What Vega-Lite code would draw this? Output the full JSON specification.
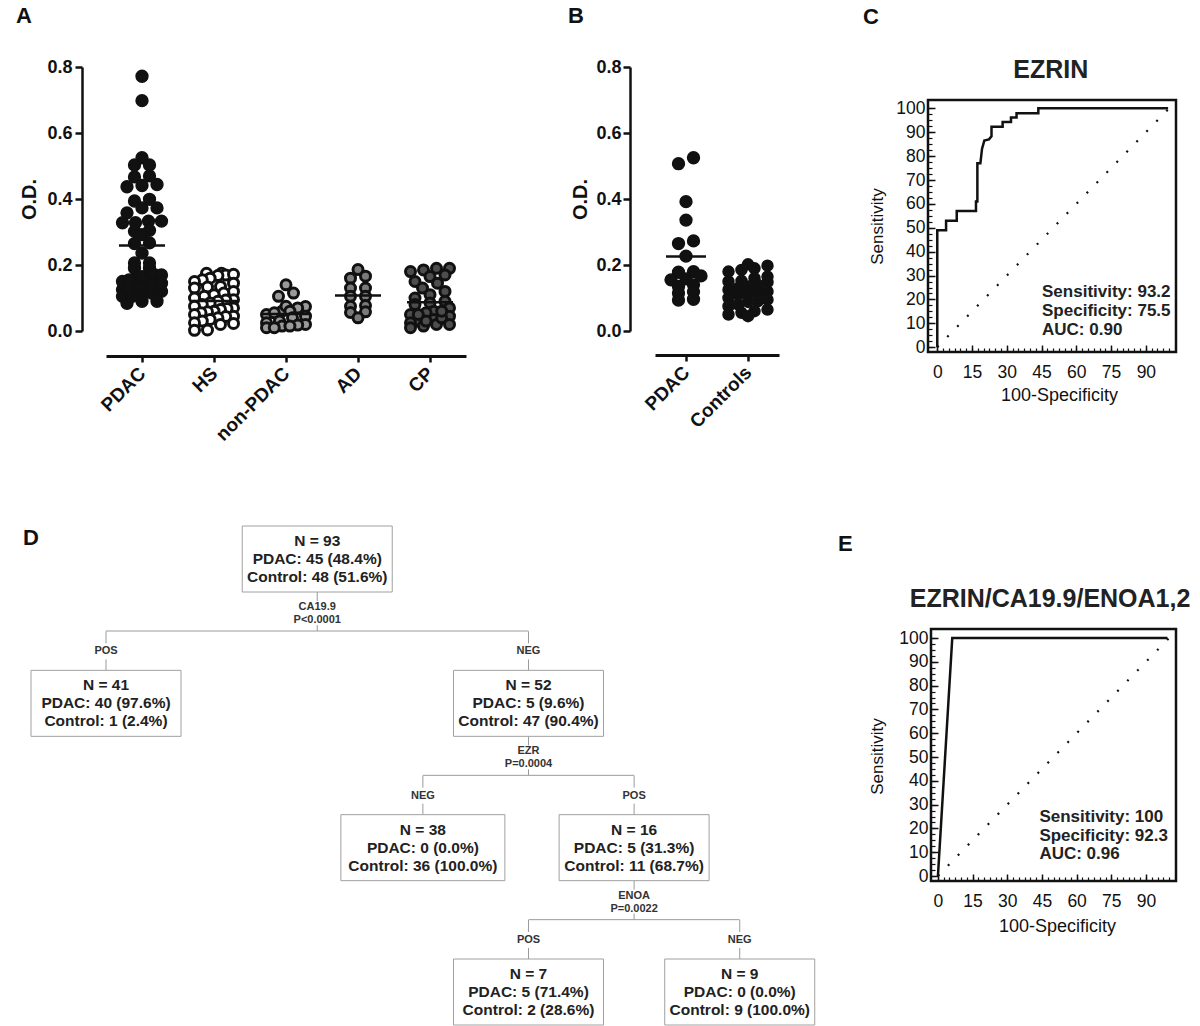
{
  "$schema": "https://vega.github.io/schema/vega-lite/v6.json",
  "padding": {"left": 16, "top": 5, "right": 0, "bottom": 0},
  "background": "white",
  "columns": 3,
  "align": "each",
  "bounds": "flush",
  "spacing": {"row": 207, "column": 149},
  "datasets": {
    "A": [
      {"group": "PDAC", "od": 0.772}, {"group": "PDAC", "od": 0.698}, {"group": "PDAC", "od": 0.525}, {"group": "PDAC", "od": 0.503}, {"group": "PDAC", "od": 0.503}, {"group": "PDAC", "od": 0.470}, {"group": "PDAC", "od": 0.467}, {"group": "PDAC", "od": 0.444}, {"group": "PDAC", "od": 0.437}, {"group": "PDAC", "od": 0.441}, {"group": "PDAC", "od": 0.399}, {"group": "PDAC", "od": 0.394}, {"group": "PDAC", "od": 0.373}, {"group": "PDAC", "od": 0.373}, {"group": "PDAC", "od": 0.358}, {"group": "PDAC", "od": 0.333}, {"group": "PDAC", "od": 0.333}, {"group": "PDAC", "od": 0.328}, {"group": "PDAC", "od": 0.328}, {"group": "PDAC", "od": 0.305}, {"group": "PDAC", "od": 0.302}, {"group": "PDAC", "od": 0.292}, {"group": "PDAC", "od": 0.265}, {"group": "PDAC", "od": 0.267}, {"group": "PDAC", "od": 0.236}, {"group": "PDAC", "od": 0.206}, {"group": "PDAC", "od": 0.206}, {"group": "PDAC", "od": 0.190}, {"group": "PDAC", "od": 0.190}, {"group": "PDAC", "od": 0.170}, {"group": "PDAC", "od": 0.170}, {"group": "PDAC", "od": 0.170}, {"group": "PDAC", "od": 0.145}, {"group": "PDAC", "od": 0.145}, {"group": "PDAC", "od": 0.140}, {"group": "PDAC", "od": 0.140}, {"group": "PDAC", "od": 0.125}, {"group": "PDAC", "od": 0.130}, {"group": "PDAC", "od": 0.125}, {"group": "PDAC", "od": 0.105}, {"group": "PDAC", "od": 0.105}, {"group": "PDAC", "od": 0.090}, {"group": "PDAC", "od": 0.084}, {"group": "PDAC", "od": 0.090}, {"group": "PDAC", "od": 0.120}, {"group": "PDAC", "od": 0.130}, {"group": "PDAC", "od": 0.150}, {"group": "PDAC", "od": 0.160}, {"group": "PDAC", "od": 0.110}, {"group": "PDAC", "od": 0.140}, {"group": "PDAC", "od": 0.155}, {"group": "PDAC", "od": 0.135}, {"group": "PDAC", "od": 0.165}, {"group": "PDAC", "od": 0.125}, {"group": "PDAC", "od": 0.145}, {"group": "PDAC", "od": 0.115},
      {"group": "HS", "od": 0.175}, {"group": "HS", "od": 0.175}, {"group": "HS", "od": 0.170}, {"group": "HS", "od": 0.172}, {"group": "HS", "od": 0.168}, {"group": "HS", "od": 0.160}, {"group": "HS", "od": 0.155}, {"group": "HS", "od": 0.150}, {"group": "HS", "od": 0.145}, {"group": "HS", "od": 0.135}, {"group": "HS", "od": 0.133}, {"group": "HS", "od": 0.130}, {"group": "HS", "od": 0.120}, {"group": "HS", "od": 0.115}, {"group": "HS", "od": 0.110}, {"group": "HS", "od": 0.105}, {"group": "HS", "od": 0.100}, {"group": "HS", "od": 0.095}, {"group": "HS", "od": 0.094}, {"group": "HS", "od": 0.090}, {"group": "HS", "od": 0.085}, {"group": "HS", "od": 0.080}, {"group": "HS", "od": 0.075}, {"group": "HS", "od": 0.070}, {"group": "HS", "od": 0.068}, {"group": "HS", "od": 0.065}, {"group": "HS", "od": 0.060}, {"group": "HS", "od": 0.058}, {"group": "HS", "od": 0.055}, {"group": "HS", "od": 0.050}, {"group": "HS", "od": 0.045}, {"group": "HS", "od": 0.044}, {"group": "HS", "od": 0.040}, {"group": "HS", "od": 0.035}, {"group": "HS", "od": 0.030}, {"group": "HS", "od": 0.025}, {"group": "HS", "od": 0.023}, {"group": "HS", "od": 0.020}, {"group": "HS", "od": 0.003}, {"group": "HS", "od": 0.002},
      {"group": "non-PDAC", "od": 0.140}, {"group": "non-PDAC", "od": 0.115}, {"group": "non-PDAC", "od": 0.105}, {"group": "non-PDAC", "od": 0.060}, {"group": "non-PDAC", "od": 0.050}, {"group": "non-PDAC", "od": 0.075}, {"group": "non-PDAC", "od": 0.074}, {"group": "non-PDAC", "od": 0.070}, {"group": "non-PDAC", "od": 0.060}, {"group": "non-PDAC", "od": 0.055}, {"group": "non-PDAC", "od": 0.045}, {"group": "non-PDAC", "od": 0.040}, {"group": "non-PDAC", "od": 0.030}, {"group": "non-PDAC", "od": 0.025}, {"group": "non-PDAC", "od": 0.020}, {"group": "non-PDAC", "od": 0.018}, {"group": "non-PDAC", "od": 0.015}, {"group": "non-PDAC", "od": 0.015}, {"group": "non-PDAC", "od": 0.010}, {"group": "non-PDAC", "od": 0.010},
      {"group": "AD", "od": 0.186}, {"group": "AD", "od": 0.166}, {"group": "AD", "od": 0.160}, {"group": "AD", "od": 0.130}, {"group": "AD", "od": 0.130}, {"group": "AD", "od": 0.105}, {"group": "AD", "od": 0.105}, {"group": "AD", "od": 0.077}, {"group": "AD", "od": 0.075}, {"group": "AD", "od": 0.058}, {"group": "AD", "od": 0.056}, {"group": "AD", "od": 0.040},
      {"group": "CP", "od": 0.190}, {"group": "CP", "od": 0.190}, {"group": "CP", "od": 0.185}, {"group": "CP", "od": 0.180}, {"group": "CP", "od": 0.170}, {"group": "CP", "od": 0.165}, {"group": "CP", "od": 0.150}, {"group": "CP", "od": 0.145}, {"group": "CP", "od": 0.130}, {"group": "CP", "od": 0.120}, {"group": "CP", "od": 0.110}, {"group": "CP", "od": 0.100}, {"group": "CP", "od": 0.090}, {"group": "CP", "od": 0.085}, {"group": "CP", "od": 0.080}, {"group": "CP", "od": 0.070}, {"group": "CP", "od": 0.060}, {"group": "CP", "od": 0.055}, {"group": "CP", "od": 0.050}, {"group": "CP", "od": 0.045}, {"group": "CP", "od": 0.035}, {"group": "CP", "od": 0.030}, {"group": "CP", "od": 0.025}, {"group": "CP", "od": 0.020}, {"group": "CP", "od": 0.015}, {"group": "CP", "od": 0.010}, {"group": "CP", "od": 0.030}, {"group": "CP", "od": 0.040}, {"group": "CP", "od": 0.020}, {"group": "CP", "od": 0.050}, {"group": "CP", "od": 0.060}
    ],
    "B": [
      {"group": "PDAC", "od": 0.525}, {"group": "PDAC", "od": 0.507}, {"group": "PDAC", "od": 0.392}, {"group": "PDAC", "od": 0.336}, {"group": "PDAC", "od": 0.273}, {"group": "PDAC", "od": 0.265}, {"group": "PDAC", "od": 0.227}, {"group": "PDAC", "od": 0.180}, {"group": "PDAC", "od": 0.178}, {"group": "PDAC", "od": 0.167}, {"group": "PDAC", "od": 0.158}, {"group": "PDAC", "od": 0.155}, {"group": "PDAC", "od": 0.140}, {"group": "PDAC", "od": 0.135}, {"group": "PDAC", "od": 0.119}, {"group": "PDAC", "od": 0.115}, {"group": "PDAC", "od": 0.096}, {"group": "PDAC", "od": 0.094},
      {"group": "Controls", "od": 0.202}, {"group": "Controls", "od": 0.198}, {"group": "Controls", "od": 0.190}, {"group": "Controls", "od": 0.185}, {"group": "Controls", "od": 0.180}, {"group": "Controls", "od": 0.165}, {"group": "Controls", "od": 0.160}, {"group": "Controls", "od": 0.152}, {"group": "Controls", "od": 0.150}, {"group": "Controls", "od": 0.148}, {"group": "Controls", "od": 0.140}, {"group": "Controls", "od": 0.135}, {"group": "Controls", "od": 0.130}, {"group": "Controls", "od": 0.125}, {"group": "Controls", "od": 0.120}, {"group": "Controls", "od": 0.115}, {"group": "Controls", "od": 0.112}, {"group": "Controls", "od": 0.110}, {"group": "Controls", "od": 0.100}, {"group": "Controls", "od": 0.095}, {"group": "Controls", "od": 0.090}, {"group": "Controls", "od": 0.088}, {"group": "Controls", "od": 0.080}, {"group": "Controls", "od": 0.075}, {"group": "Controls", "od": 0.065}, {"group": "Controls", "od": 0.060}, {"group": "Controls", "od": 0.055}, {"group": "Controls", "od": 0.050}, {"group": "Controls", "od": 0.045}
    ],
    "rocC": [
      {"i": 0, "fpr": 0, "tpr": 0}, {"i": 1, "fpr": 0, "tpr": 49}, {"i": 2, "fpr": 3.8, "tpr": 49}, {"i": 3, "fpr": 3.8, "tpr": 53}, {"i": 4, "fpr": 8.4, "tpr": 53}, {"i": 5, "fpr": 8.4, "tpr": 57}, {"i": 6, "fpr": 16.7, "tpr": 57}, {"i": 7, "fpr": 16.7, "tpr": 61}, {"i": 8, "fpr": 17.3, "tpr": 61}, {"i": 9, "fpr": 17.3, "tpr": 77}, {"i": 10, "fpr": 18.6, "tpr": 77}, {"i": 11, "fpr": 19.3, "tpr": 83}, {"i": 12, "fpr": 20.3, "tpr": 86.5}, {"i": 13, "fpr": 22.3, "tpr": 87}, {"i": 14, "fpr": 23.4, "tpr": 88.3}, {"i": 15, "fpr": 23.4, "tpr": 92.3}, {"i": 16, "fpr": 28.2, "tpr": 92.3}, {"i": 17, "fpr": 28.2, "tpr": 94.3}, {"i": 18, "fpr": 31.8, "tpr": 94.3}, {"i": 19, "fpr": 31.8, "tpr": 96.2}, {"i": 20, "fpr": 34.2, "tpr": 96.2}, {"i": 21, "fpr": 34.2, "tpr": 98}, {"i": 22, "fpr": 43.6, "tpr": 98}, {"i": 23, "fpr": 43.6, "tpr": 100}, {"i": 24, "fpr": 99.6, "tpr": 100}
    ],
    "rocE": [
      {"i": 0, "fpr": 0, "tpr": 0}, {"i": 1, "fpr": 6.2, "tpr": 100}, {"i": 2, "fpr": 99.3, "tpr": 100}
    ],
    "diag": [
      {"fpr": 0, "tpr": 0}, {"fpr": 100, "tpr": 100}
    ],
    "nodes": [
      {"slot": 2, "depth": 0, "total": 93, "l1": "N = 93", "l2": "PDAC: 45 (48.4%)", "l3": "Control: 48 (51.6%)"},
      {"slot": 0, "depth": 1, "total": 41, "l1": "N = 41", "l2": "PDAC: 40 (97.6%)", "l3": "Control: 1 (2.4%)"},
      {"slot": 4, "depth": 1, "total": 52, "l1": "N = 52", "l2": "PDAC: 5 (9.6%)", "l3": "Control: 47 (90.4%)"},
      {"slot": 3, "depth": 2, "total": 38, "l1": "N = 38", "l2": "PDAC: 0 (0.0%)", "l3": "Control: 36 (100.0%)"},
      {"slot": 5, "depth": 2, "total": 16, "l1": "N = 16", "l2": "PDAC: 5 (31.3%)", "l3": "Control: 11 (68.7%)"},
      {"slot": 4, "depth": 3, "total": 7, "l1": "N = 7", "l2": "PDAC: 5 (71.4%)", "l3": "Control: 2 (28.6%)"},
      {"slot": 6, "depth": 3, "total": 9, "l1": "N = 9", "l2": "PDAC: 0 (0.0%)", "l3": "Control: 9 (100.0%)"}
    ],
    "splits": [
      {"slot": 2, "depth": 0, "var": "CA19.9", "p": "P<0.0001", "left": 0, "right": 4},
      {"slot": 4, "depth": 1, "var": "EZR", "p": "P=0.0004", "left": 3, "right": 5},
      {"slot": 5, "depth": 2, "var": "ENOA", "p": "P=0.0022", "left": 4, "right": 6}
    ],
    "branches": [
      {"slot": 0, "depth": 1, "side": "POS"}, {"slot": 4, "depth": 1, "side": "NEG"},
      {"slot": 3, "depth": 2, "side": "NEG"}, {"slot": 5, "depth": 2, "side": "POS"},
      {"slot": 4, "depth": 3, "side": "POS"}, {"slot": 6, "depth": 3, "side": "NEG"}
    ]
  },
  "concat": [
    {
      "width": 400, "height": 264,
      "title": {"text": "A", "dx": -90, "offset": 30},
      "data": {"name": "A"},
      "layer": [
        {
          "transform": [
            {"bin": {"step": 0.025}, "field": "od", "as": "ybin"},
            {"window": [{"op": "row_number", "as": "r"}, {"op": "count", "as": "n"}], "groupby": ["group", "ybin"], "sort": [{"field": "od", "order": "ascending"}], "frame": [null, null]},
            {"calculate": "(datum.r - (datum.n + 1) / 2) * min(1, 2.6 / max(datum.n - 1, 1))", "as": "lane"}
          ],
          "mark": {"type": "point", "shape": "circle", "filled": true, "stroke": "#111", "opacity": 1},
          "encoding": {
            "x": {"field": "group", "type": "nominal", "sort": ["PDAC", "HS", "non-PDAC", "AD", "CP"],
                  "scale": {"type": "point", "padding": 0.5, "range": [0, 360]},
                  "axis": {"offset": 25, "domainWidth": 3, "tickSize": 6, "tickWidth": 2.5, "labelAngle": -45, "labelAlign": "right", "labelBaseline": "middle", "labelFontSize": 19, "labelFontWeight": "bold", "labelPadding": 8, "title": null}},
            "xOffset": {"field": "lane", "type": "quantitative", "scale": {"domain": [-1, 1], "range": [-15, 15]}},
            "y": {"field": "od", "type": "quantitative", "scale": {"domain": [0, 0.8], "nice": false, "zero": false},
                  "axis": {"values": [0, 0.2, 0.4, 0.6, 0.8], "format": ".1f", "offset": 24, "domainWidth": 2.5, "tickSize": 7, "tickWidth": 2.5, "labelFontSize": 18, "labelFontWeight": "bold", "labelPadding": 3, "title": "O.D.", "titleFontSize": 20, "titleFontWeight": "bold", "titleX": -53, "titleY": 132, "titleAngle": -90, "titleBaseline": "middle", "titleAlign": "center"}},
            "fill": {"field": "group", "type": "nominal", "scale": {"domain": ["PDAC", "HS", "non-PDAC", "AD", "CP"], "range": ["#111111", "#ffffff", "#9a9a9a", "#7a7a7a", "#4d4d4d"]}, "legend": null},
            "size": {"condition": {"test": "datum.group === 'PDAC'", "value": 140}, "value": 100},
            "strokeWidth": {"condition": {"test": "datum.group === 'PDAC'", "value": 1.5}, "value": 3}
          }
        },
        {
          "mark": {"type": "tick", "orient": "horizontal", "size": 46, "thickness": 2.5, "color": "#111", "opacity": 1},
          "encoding": {
            "x": {"field": "group", "type": "nominal", "sort": ["PDAC", "HS", "non-PDAC", "AD", "CP"]},
            "y": {"field": "od", "type": "quantitative", "aggregate": "mean"}
          }
        }
      ]
    },
    {
      "width": 124, "height": 264,
      "title": {"text": "B", "dx": -87, "offset": 30},
      "data": {"name": "B"},
      "layer": [
        {
          "transform": [
            {"bin": {"step": 0.025}, "field": "od", "as": "ybin"},
            {"window": [{"op": "row_number", "as": "r"}, {"op": "count", "as": "n"}], "groupby": ["group", "ybin"], "sort": [{"field": "od", "order": "ascending"}], "frame": [null, null]},
            {"calculate": "(datum.r - (datum.n + 1) / 2) * min(1, 2.6 / max(datum.n - 1, 1))", "as": "lane"}
          ],
          "mark": {"type": "point", "shape": "circle", "filled": true, "stroke": "#111", "opacity": 1},
          "encoding": {
            "x": {"field": "group", "type": "nominal", "sort": ["PDAC", "Controls"],
                  "scale": {"type": "point", "padding": 0.5},
                  "axis": {"offset": 24, "domainWidth": 3, "tickSize": 6, "tickWidth": 2.5, "labelAngle": -45, "labelAlign": "right", "labelBaseline": "middle", "labelFontSize": 19, "labelFontWeight": "bold", "labelPadding": 8, "title": null}},
            "xOffset": {"field": "lane", "type": "quantitative", "scale": {"domain": [-1, 1], "range": [-15, 15]}},
            "y": {"field": "od", "type": "quantitative", "scale": {"domain": [0, 0.8], "nice": false, "zero": false},
                  "axis": {"values": [0, 0.2, 0.4, 0.6, 0.8], "format": ".1f", "offset": 25, "domainWidth": 2.5, "tickSize": 7, "tickWidth": 2.5, "labelFontSize": 18, "labelFontWeight": "bold", "labelPadding": 2, "title": "O.D.", "titleFontSize": 20, "titleFontWeight": "bold", "titleX": -50, "titleY": 132, "titleAngle": -90, "titleBaseline": "middle", "titleAlign": "center"}},
            "fill": {"field": "group", "type": "nominal", "scale": {"domain": ["PDAC", "Controls"], "range": ["#111111", "#ffffff"]}, "legend": null},
            "size": {"condition": {"test": "datum.group === 'PDAC'", "value": 140}, "value": 72},
            "strokeWidth": {"condition": {"test": "datum.group === 'PDAC'", "value": 1.5}, "value": 4}
          }
        },
        {
          "mark": {"type": "tick", "orient": "horizontal", "size": 40, "thickness": 2.5, "color": "#111", "opacity": 1},
          "encoding": {
            "x": {"field": "group", "type": "nominal", "sort": ["PDAC", "Controls"]},
            "y": {"field": "od", "type": "quantitative", "aggregate": "mean"}
          }
        }
      ]
    },
    {
      "width": 248, "height": 285,
      "title": {"text": "C", "dx": -65, "offset": 29},
      "layer": [
        {
          "data": {"name": "rocC"},
          "mark": {"type": "line", "color": "#111", "strokeWidth": 2.5},
          "encoding": {
            "x": {"field": "fpr", "type": "quantitative", "scale": {"domain": [-4, 103], "nice": false, "zero": false},
                  "axis": {"orient": "bottom", "values": [0, 15, 30, 45, 60, 75, 90], "tickSize": -7, "tickWidth": 1.5, "domain": false, "labelFontSize": 17.5, "labelPadding": 18, "title": "100-Specificity", "titleFontSize": 18, "titleFontWeight": "normal", "titleX": 131, "titleY": 43, "titleBaseline": "middle", "titleAlign": "center"}},
            "y": {"field": "tpr", "type": "quantitative", "scale": {"domain": [-2, 103.5], "range": [285, 33], "nice": false, "zero": false},
                  "axis": {"orient": "left", "values": [0, 10, 20, 30, 40, 50, 60, 70, 80, 90, 100], "tickSize": -7, "tickWidth": 1.5, "domain": false, "labelFontSize": 17.5, "labelPadding": 10, "title": "Sensitivity", "titleFontSize": 17, "titleFontWeight": "normal", "titleX": -51, "titleY": 159, "titleAngle": -90, "titleBaseline": "middle", "titleAlign": "center"}},
            "order": {"field": "i"}
          }
        },
        {
          "data": {"name": "diag"},
          "mark": {"type": "line", "color": "#111", "strokeWidth": 2.2, "strokeDash": [2, 12.3]},
          "encoding": {
            "x": {"field": "fpr", "type": "quantitative",
                  "axis": {"orient": "bottom", "values": [0, 2.5, 5, 7.5, 10, 12.5, 15, 17.5, 20, 22.5, 25, 27.5, 30, 32.5, 35, 37.5, 40, 42.5, 45, 47.5, 50, 52.5, 55, 57.5, 60, 62.5, 65, 67.5, 70, 72.5, 75, 77.5, 80, 82.5, 85, 87.5, 90, 92.5, 95, 97.5, 100], "tickSize": -4, "tickWidth": 1.2, "domain": false, "labels": false, "title": null}},
            "y": {"field": "tpr", "type": "quantitative",
                  "axis": {"orient": "left", "values": [0, 2.5, 5, 7.5, 10, 12.5, 15, 17.5, 20, 22.5, 25, 27.5, 30, 32.5, 35, 37.5, 40, 42.5, 45, 47.5, 50, 52.5, 55, 57.5, 60, 62.5, 65, 67.5, 70, 72.5, 75, 77.5, 80, 82.5, 85, 87.5, 90, 92.5, 95, 97.5, 100], "tickSize": -4, "tickWidth": 1.2, "domain": false, "labels": false, "title": null}}
          }
        },
        {
          "data": {"values": [{}]},
          "mark": {"type": "rect", "fill": "transparent", "stroke": "#111", "strokeWidth": 2.5},
          "encoding": {
            "x": {"datum": -4, "type": "quantitative", "axis": null}, "x2": {"datum": 103},
            "y": {"datum": -2, "type": "quantitative", "axis": null}, "y2": {"datum": 103.5}
          }
        },
        {
          "data": {"values": [{}]},
          "mark": {"type": "text", "align": "left", "baseline": "alphabetic", "fontSize": 17, "fontWeight": "bold", "lineHeight": 19.3, "color": "#222"},
          "encoding": {
            "x": {"datum": 45.2, "type": "quantitative", "axis": null},
            "y": {"datum": 21.1, "type": "quantitative", "axis": null},
            "text": {"value": ["Sensitivity: 93.2", "Specificity: 75.5", "AUC: 0.90"]}
          }
        },
        {
          "data": {"values": [{}]},
          "mark": {"type": "text", "align": "center", "baseline": "alphabetic", "fontSize": 25, "fontWeight": "bold", "color": "#222"},
          "encoding": {
            "x": {"datum": 49, "type": "quantitative", "axis": null},
            "y": {"datum": 112.7, "type": "quantitative", "axis": null},
            "text": {"value": "EZRIN"}
          }
        }
      ],
      "resolve": {"axis": {"x": "independent", "y": "independent"}}
    },
    {
      "width": 400, "height": 433,
      "title": {"text": "D", "dx": -83, "offset": -25.5},
      "layer": [
        {
          "data": {"name": "splits"},
          "mark": {"type": "rule", "color": "#9a9a9a", "strokeWidth": 1, "yOffset": 72},
          "encoding": {
            "x": {"field": "left", "type": "quantitative", "scale": {"domain": [0, 3.787], "nice": false, "zero": false}, "axis": null},
            "x2": {"field": "right"},
            "y": {"field": "depth", "type": "quantitative", "scale": {"domain": [0, 3], "reverse": true, "nice": false, "zero": false}, "axis": null}
          }
        },
        {
          "data": {"name": "splits"},
          "mark": {"type": "rule", "color": "#9a9a9a", "strokeWidth": 1, "yOffset": 33, "y2Offset": 42},
          "encoding": {
            "x": {"field": "slot", "type": "quantitative", "axis": null},
            "y": {"field": "depth", "type": "quantitative", "axis": null},
            "y2": {"field": "depth"}
          }
        },
        {
          "data": {"name": "splits"},
          "mark": {"type": "rule", "color": "#9a9a9a", "strokeWidth": 1, "yOffset": 66, "y2Offset": 72},
          "encoding": {
            "x": {"field": "slot", "type": "quantitative", "axis": null},
            "y": {"field": "depth", "type": "quantitative", "axis": null},
            "y2": {"field": "depth"}
          }
        },
        {
          "data": {"name": "splits"},
          "mark": {"type": "text", "fontSize": 11, "fontWeight": "bold", "color": "#333", "baseline": "middle", "dy": 48},
          "encoding": {
            "x": {"field": "slot", "type": "quantitative", "axis": null},
            "y": {"field": "depth", "type": "quantitative", "axis": null},
            "text": {"field": "var"}
          }
        },
        {
          "data": {"name": "splits"},
          "mark": {"type": "text", "fontSize": 11, "fontWeight": "bold", "color": "#333", "baseline": "middle", "dy": 61},
          "encoding": {
            "x": {"field": "slot", "type": "quantitative", "axis": null},
            "y": {"field": "depth", "type": "quantitative", "axis": null},
            "text": {"field": "p"}
          }
        },
        {
          "data": {"name": "branches"},
          "mark": {"type": "rule", "color": "#9a9a9a", "strokeWidth": 1, "yOffset": -72, "y2Offset": -60},
          "encoding": {
            "x": {"field": "slot", "type": "quantitative", "axis": null},
            "y": {"field": "depth", "type": "quantitative", "axis": null},
            "y2": {"field": "depth"}
          }
        },
        {
          "data": {"name": "branches"},
          "mark": {"type": "rule", "color": "#9a9a9a", "strokeWidth": 1, "yOffset": -44, "y2Offset": -33},
          "encoding": {
            "x": {"field": "slot", "type": "quantitative", "axis": null},
            "y": {"field": "depth", "type": "quantitative", "axis": null},
            "y2": {"field": "depth"}
          }
        },
        {
          "data": {"name": "branches"},
          "mark": {"type": "text", "fontSize": 11, "fontWeight": "bold", "color": "#333", "baseline": "middle", "dy": -52},
          "encoding": {
            "x": {"field": "slot", "type": "quantitative", "axis": null},
            "y": {"field": "depth", "type": "quantitative", "axis": null},
            "text": {"field": "side"}
          }
        },
        {
          "data": {"name": "nodes"},
          "mark": {"type": "point", "filled": true, "fill": "white", "stroke": "#a0a0a0", "strokeWidth": 1, "opacity": 1},
          "encoding": {
            "x": {"field": "slot", "type": "quantitative", "axis": null},
            "y": {"field": "depth", "type": "quantitative", "axis": null},
            "shape": {"condition": {"test": "datum.total === 38", "value": "M-1,-0.4024H1V0.4024H-1Z"}, "value": "M-1,-0.44H1V0.44H-1Z"},
            "size": {"condition": {"test": "datum.total === 38", "value": 26896}, "value": 22500}
          }
        },
        {
          "data": {"name": "nodes"},
          "mark": {"type": "text", "fontSize": 15.5, "fontWeight": "bold", "color": "#222", "baseline": "middle", "dy": -18},
          "encoding": {
            "x": {"field": "slot", "type": "quantitative", "axis": null},
            "y": {"field": "depth", "type": "quantitative", "axis": null},
            "text": {"field": "l1"}
          }
        },
        {
          "data": {"name": "nodes"},
          "mark": {"type": "text", "fontSize": 15.5, "fontWeight": "bold", "color": "#222", "baseline": "middle", "dy": 0},
          "encoding": {
            "x": {"field": "slot", "type": "quantitative", "axis": null},
            "y": {"field": "depth", "type": "quantitative", "axis": null},
            "text": {"field": "l2"}
          }
        },
        {
          "data": {"name": "nodes"},
          "mark": {"type": "text", "fontSize": 15.5, "fontWeight": "bold", "color": "#222", "baseline": "middle", "dy": 18},
          "encoding": {
            "x": {"field": "slot", "type": "quantitative", "axis": null},
            "y": {"field": "depth", "type": "quantitative", "axis": null},
            "text": {"field": "l3"}
          }
        }
      ]
    },
    {
      "width": 10, "height": 10,
      "data": {"values": []},
      "mark": "point"
    },
    {
      "width": 248, "height": 322,
      "title": {"text": "E", "dx": -90, "offset": 3},
      "layer": [
        {
          "data": {"name": "rocE"},
          "mark": {"type": "line", "color": "#111", "strokeWidth": 2.5},
          "encoding": {
            "x": {"field": "fpr", "type": "quantitative", "scale": {"domain": [-3, 103], "range": [3, 248], "nice": false, "zero": false},
                  "axis": {"orient": "bottom", "values": [0, 15, 30, 45, 60, 75, 90], "tickSize": -7, "tickWidth": 1.5, "domain": false, "labelFontSize": 17.5, "labelPadding": 18, "title": "100-Specificity", "titleFontSize": 18, "titleFontWeight": "normal", "titleX": 129, "titleY": 45, "titleBaseline": "middle", "titleAlign": "center"}},
            "y": {"field": "tpr", "type": "quantitative", "scale": {"domain": [-2.1, 103.8], "range": [322, 70], "nice": false, "zero": false},
                  "axis": {"orient": "left", "offset": -3, "values": [0, 10, 20, 30, 40, 50, 60, 70, 80, 90, 100], "tickSize": -7, "tickWidth": 1.5, "domain": false, "labelFontSize": 17.5, "labelPadding": 10, "title": "Sensitivity", "titleFontSize": 17, "titleFontWeight": "normal", "titleX": -54, "titleY": 197, "titleAngle": -90, "titleBaseline": "middle", "titleAlign": "center"}},
            "order": {"field": "i"}
          }
        },
        {
          "data": {"name": "diag"},
          "mark": {"type": "line", "color": "#111", "strokeWidth": 2.2, "strokeDash": [2, 12.3]},
          "encoding": {
            "x": {"field": "fpr", "type": "quantitative",
                  "axis": {"orient": "bottom", "values": [0, 2.5, 5, 7.5, 10, 12.5, 15, 17.5, 20, 22.5, 25, 27.5, 30, 32.5, 35, 37.5, 40, 42.5, 45, 47.5, 50, 52.5, 55, 57.5, 60, 62.5, 65, 67.5, 70, 72.5, 75, 77.5, 80, 82.5, 85, 87.5, 90, 92.5, 95, 97.5, 100], "tickSize": -4, "tickWidth": 1.2, "domain": false, "labels": false, "title": null}},
            "y": {"field": "tpr", "type": "quantitative",
                  "axis": {"orient": "left", "offset": -3, "values": [0, 2.5, 5, 7.5, 10, 12.5, 15, 17.5, 20, 22.5, 25, 27.5, 30, 32.5, 35, 37.5, 40, 42.5, 45, 47.5, 50, 52.5, 55, 57.5, 60, 62.5, 65, 67.5, 70, 72.5, 75, 77.5, 80, 82.5, 85, 87.5, 90, 92.5, 95, 97.5, 100], "tickSize": -4, "tickWidth": 1.2, "domain": false, "labels": false, "title": null}}
          }
        },
        {
          "data": {"values": [{}]},
          "mark": {"type": "rect", "fill": "transparent", "stroke": "#111", "strokeWidth": 2.5},
          "encoding": {
            "x": {"datum": -3, "type": "quantitative", "axis": null}, "x2": {"datum": 103},
            "y": {"datum": -2.1, "type": "quantitative", "axis": null}, "y2": {"datum": 103.8}
          }
        },
        {
          "data": {"values": [{}]},
          "mark": {"type": "text", "align": "left", "baseline": "alphabetic", "fontSize": 17, "fontWeight": "bold", "lineHeight": 18.7, "color": "#222"},
          "encoding": {
            "x": {"datum": 43.9, "type": "quantitative", "axis": null},
            "y": {"datum": 22.7, "type": "quantitative", "axis": null},
            "text": {"value": ["Sensitivity: 100", "Specificity: 92.3", "AUC: 0.96"]}
          }
        },
        {
          "data": {"values": [{}]},
          "mark": {"type": "text", "align": "center", "baseline": "alphabetic", "fontSize": 25, "fontWeight": "bold", "color": "#222"},
          "encoding": {
            "x": {"datum": 48.5, "type": "quantitative", "axis": null},
            "y": {"datum": 113, "type": "quantitative", "axis": null},
            "text": {"value": "EZRIN/CA19.9/ENOA1,2"}
          }
        }
      ],
      "resolve": {"axis": {"x": "independent", "y": "independent"}}
    }
  ],
  "config": {
    "view": {"stroke": null},
    "font": "Liberation Sans",
    "axis": {"grid": false, "labelFont": "Liberation Sans", "titleFont": "Liberation Sans", "labelColor": "#111", "titleColor": "#111", "domainColor": "#111", "tickColor": "#111", "labelFlush": false, "labelOverlap": false},
    "title": {"font": "Liberation Sans", "fontSize": 22, "fontWeight": "bold", "color": "#111", "anchor": "start", "frame": "group", "baseline": "alphabetic"},
    "text": {"font": "Liberation Sans"}
  }
}
